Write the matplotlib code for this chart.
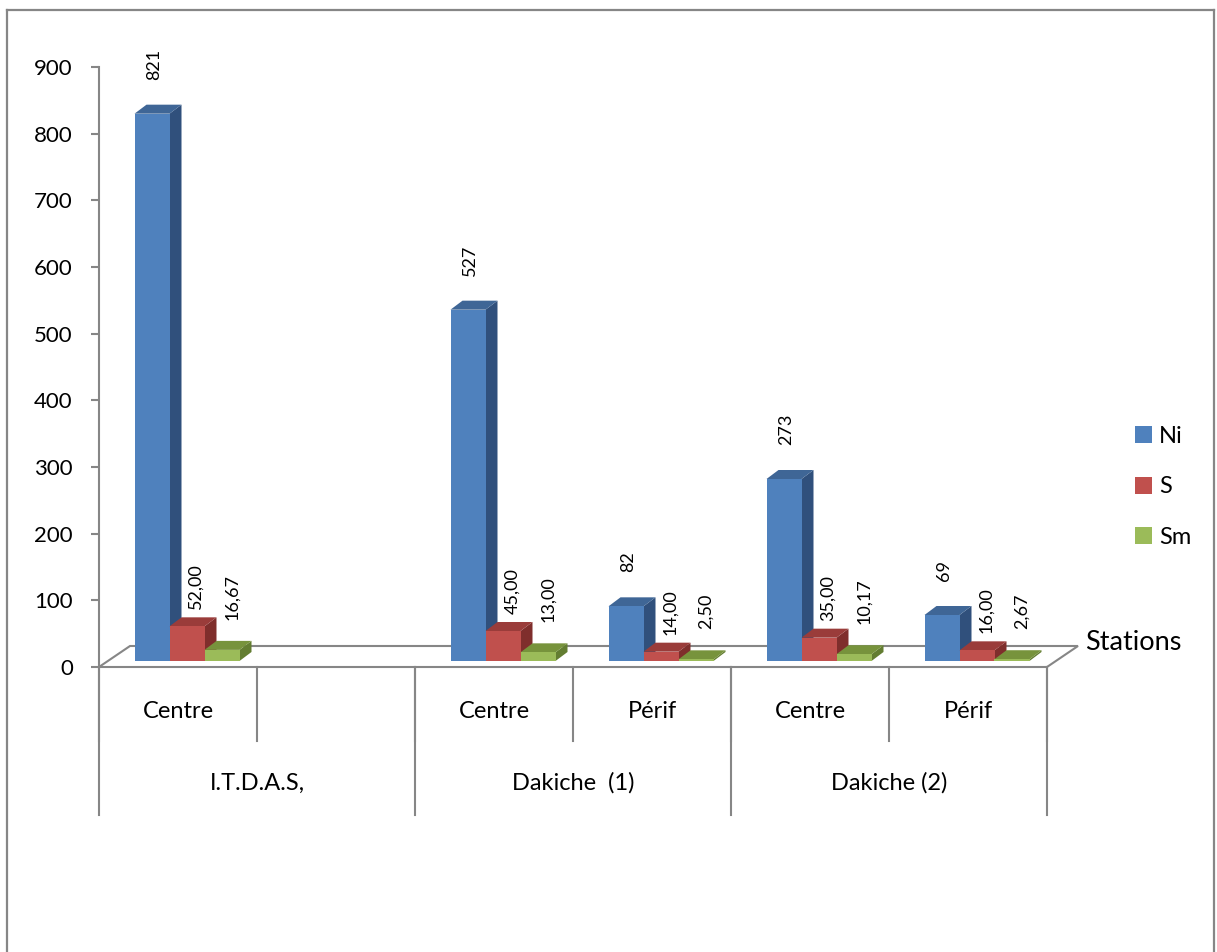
import numpy as np
import matplotlib.pyplot as plt
from matplotlib.patches import Polygon, Rectangle
from matplotlib.lines import Line2D

plt.rcParams['font.family'] = ['Lato', 'DejaVu Sans']

# data
categories = ["Centre", "", "Centre", "Périf", "Centre", "Périf"]
groups = ["I.T.D.A.S,", "Dakiche  (1)", "Dakiche (2)"]
group_sizes = [2, 2, 2]
ni = [821, np.nan, 527, 82, 273, 69]
s = [52.00, np.nan, 45.00, 14.00, 35.00, 16.00]
sm = [16.67, np.nan, 13.00, 2.50, 10.17, 2.67]
series_names = ["Ni", "S", "Sm"]
yticks = [0, 100, 200, 300, 400, 500, 600, 700, 800, 900]

# front / top / side shades per series
faces = [("#4F81BD", "#3F6696", "#30507C"),
         ("#C0504D", "#9A3C3A", "#7F2E2C"),
         ("#9BBB59", "#77933C", "#637D31")]
label_fmt = [lambda v: f"{v:.0f}",
             lambda v: f"{v:.2f}".replace(".", ","),
             lambda v: f"{v:.2f}".replace(".", ",")]
label_off = [(2, 34), (9, 17), (10, 30)]   # pixels

W, H = 1217, 952
grey = "#868686"
fig = plt.figure(figsize=(W / 100, H / 100), dpi=100)
ax = fig.add_axes([99 / W, 1 - 667 / H, 948 / W, 600 / H])
n = len(categories)
ax.set_xlim(-0.5, n - 0.5)
ax.set_ylim(0, yticks[-1])

# pixel -> data conversion
px_x = 948 / n
px_y = 600 / yticks[-1]
def ddx(p):
    return p / px_x
def ddy(p):
    return p / px_y

for sp in ["top", "right", "bottom"]:
    ax.spines[sp].set_visible(False)
ax.spines["left"].set_color(grey)
ax.spines["left"].set_linewidth(1.5)
ax.set_xticks([])
ax.set_yticks(yticks)
ax.tick_params(axis="y", length=5.8, width=1.5, color=grey, pad=13, labelsize=16)
ax.patch.set_visible(False)

# floor
fx, fy = ddx(31), ddy(21)
floor = Polygon([(-0.5, 0), (n - 0.5, 0), (n - 0.5 + fx, fy), (-0.5 + fx, fy)],
                closed=True, facecolor="white", edgecolor=grey, lw=1.5,
                clip_on=False, zorder=1)
ax.add_patch(floor)

# 3d columns
w = ddx(35)
shift = ddx(9)
base = ddy(6)
dx, dy = ddx(12), ddy(9)
series = [ni, s, sm]
for i in range(n):
    for j, vals in enumerate(series):
        v = vals[i]
        if np.isnan(v):
            continue
        front, top, side = faces[j]
        x0 = i + shift - 1.5 * w + j * w
        x1 = x0 + w
        t = base + v
        z = 3 + j
        ax.add_patch(Polygon([(x1, base), (x1 + dx, base + dy), (x1 + dx, t + dy), (x1, t)],
                             closed=True, facecolor=side, edgecolor="none",
                             clip_on=False, zorder=z))
        ax.add_patch(Polygon([(x0, t), (x1, t), (x1 + dx, t + dy), (x0 + dx, t + dy)],
                             closed=True, facecolor=top, edgecolor="none",
                             clip_on=False, zorder=z))
        ax.add_patch(Rectangle((x0, base), w, v, facecolor=front, edgecolor="none",
                               clip_on=False, zorder=z))
        ox, oy = label_off[j]
        ax.annotate(label_fmt[j](v), xy=(x0 + w / 2, t), xytext=(ox * 0.72, oy * 0.72),
                    textcoords="offset points", rotation=90, ha="center", va="bottom",
                    fontsize=13, zorder=10)

# two-level category axis
xt = ax.get_xaxis_transform()
lvl1, lvl2 = -74 / 600, -148 / 600
for k in range(n + 1):
    ax.add_line(Line2D([k - 0.5, k - 0.5], [0, lvl1], transform=xt, color=grey,
                       lw=1.5, clip_on=False))
for i, c in enumerate(categories):
    ax.text(i, -44 / 600, c, transform=xt, ha="center", va="center", fontsize=17)
edge = -0.5
for g, size in zip(groups, group_sizes):
    ax.add_line(Line2D([edge, edge], [0, lvl2], transform=xt, color=grey,
                       lw=1.5, clip_on=False))
    ax.text(edge + size / 2, -116 / 600, g, transform=xt, ha="center", va="center",
            fontsize=17)
    edge += size
ax.add_line(Line2D([edge, edge], [0, lvl2], transform=xt, color=grey,
                   lw=1.5, clip_on=False))

fig.text(1085 / W, 1 - 643 / H, "Stations", ha="left", va="center", fontsize=19.5)

handles = [Rectangle((0, 0), 1, 1, facecolor=f[0]) for f in faces]
fig.legend(handles, series_names, loc="center left",
           bbox_to_anchor=(1123 / W, 1 - 487 / H), frameon=False, fontsize=17,
           borderpad=0, handlelength=0.72, handleheight=0.72, handletextpad=0.3,
           labelspacing=1.25)

# chart area border (open at the bottom)
bx0, bx1, by = 7 / W, 1214 / W, 1 - 10 / H
for xs, ys in [([bx0, bx0], [0, by]), ([bx0, bx1], [by, by]), ([bx1, bx1], [0, by])]:
    fig.add_artist(Line2D(xs, ys, transform=fig.transFigure, color=grey, lw=1.6))

fig.savefig("out.png", dpi=100)
